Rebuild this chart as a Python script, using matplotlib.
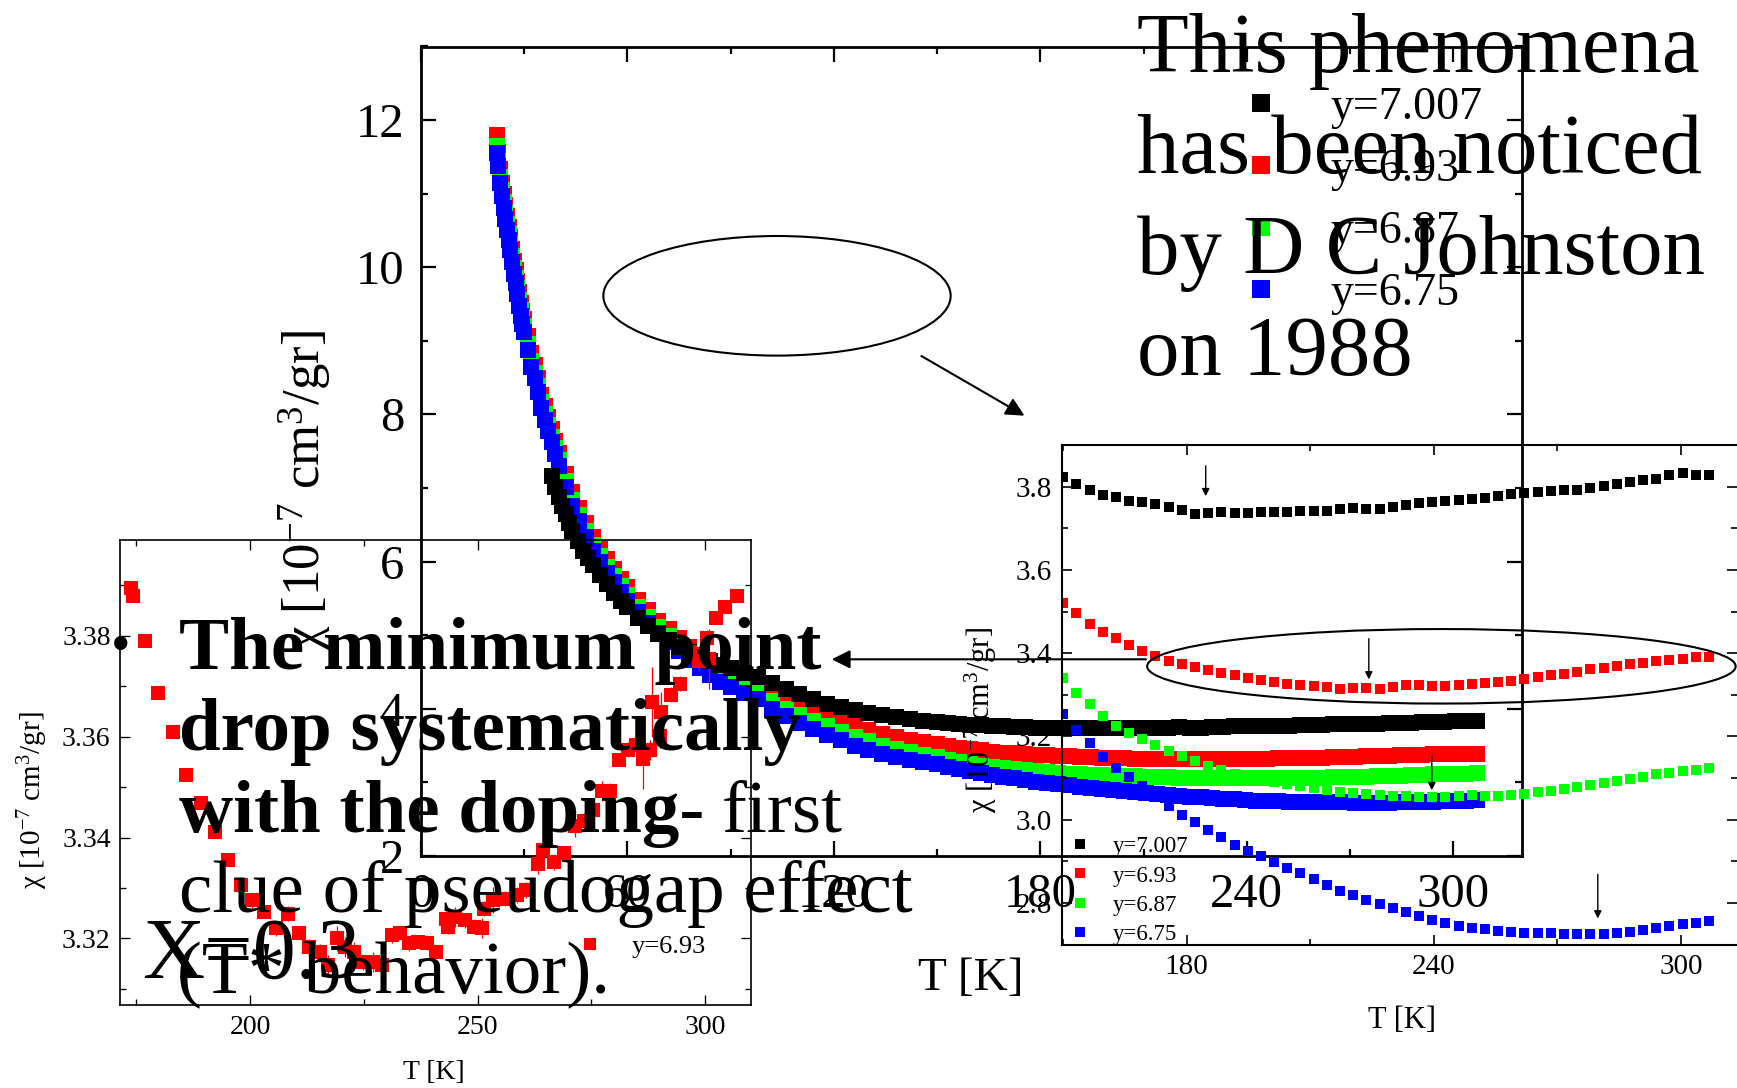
import matplotlib
matplotlib.use("Agg")
import matplotlib.pyplot as plt
from matplotlib.patches import Ellipse
from matplotlib.ticker import MultipleLocator

plt.rcParams["font.family"] = ["Liberation Serif", "DejaVu Serif"]
plt.rcParams["mathtext.fontset"] = "custom"
plt.rcParams["mathtext.rm"] = "Liberation Serif"
plt.rcParams["mathtext.it"] = "Liberation Serif:italic"

W, H = 1737, 1088

# ---- data (T in K, chi in 1e-7 cm^3/gr) ----
labels = ["y=7.007", "y=6.93", "y=6.87", "y=6.75"]
colors = ["black", "red", "#00ff00", "blue"]

# low temperature part, red / green / blue share one T grid
T_low = [22.0, 22.5, 23.0, 23.5, 24.0, 24.5, 25.0, 25.5, 26.0, 26.5, 27.0, 27.5,
         28.0, 28.5, 29.0, 29.5, 30.0, 31.0, 32.0, 33.0, 34.0, 35.0, 36.0, 37.0,
         38.0, 39.0, 40.0, 42.0, 44.0, 46.0, 48.0, 50.0, 52.0, 54.0, 56.0, 58.0,
         60.0, 63.0, 66.0, 69.0, 72.0, 75.0, 78.0, 81.0, 84.0, 87.0, 90.0, 94.0,
         98.0, 102.0, 106.0, 110.0, 114.0, 118.0, 122.0, 126.0, 130.0, 134.0,
         138.0, 142.0, 146.0]
red_low = [11.80, 11.56, 11.33, 11.15, 10.99, 10.84, 10.69, 10.55, 10.41, 10.25,
           10.09, 9.96, 9.82, 9.66, 9.52, 9.41, 9.30, 9.06, 8.83, 8.67, 8.49, 8.27,
           8.11, 7.96, 7.80, 7.64, 7.48, 7.19, 6.94, 6.73, 6.52, 6.33, 6.17, 6.03,
           5.90, 5.77, 5.65, 5.48, 5.34, 5.20, 5.08, 4.96, 4.84, 4.73, 4.63, 4.54,
           4.47, 4.39, 4.31, 4.20, 4.11, 4.03, 3.96, 3.89, 3.82, 3.76, 3.71, 3.66,
           3.62, 3.58, 3.55]
green_low = [11.65, 11.45, 11.22, 11.05, 10.89, 10.74, 10.59, 10.45, 10.31, 10.15,
             9.99, 9.86, 9.72, 9.56, 9.42, 9.31, 9.20, 8.96, 8.73, 8.57, 8.39, 8.17,
             8.01, 7.86, 7.70, 7.54, 7.38, 7.09, 6.84, 6.63, 6.42, 6.23, 6.07, 5.93,
             5.80, 5.67, 5.55, 5.39, 5.25, 5.11, 4.99, 4.87, 4.75, 4.64, 4.54, 4.45,
             4.38, 4.30, 4.22, 4.10, 4.00, 3.92, 3.84, 3.77, 3.69, 3.62, 3.56, 3.50,
             3.45, 3.41, 3.37]
blue_low = [11.55, 11.37, 11.14, 10.97, 10.81, 10.66, 10.51, 10.37, 10.23, 10.07,
            9.91, 9.78, 9.64, 9.48, 9.34, 9.23, 9.12, 8.88, 8.65, 8.49, 8.31, 8.09,
            7.93, 7.78, 7.62, 7.46, 7.30, 7.01, 6.76, 6.55, 6.34, 6.15, 5.99, 5.85,
            5.72, 5.59, 5.47, 5.31, 5.17, 5.03, 4.91, 4.79, 4.67, 4.56, 4.46, 4.37,
            4.30, 4.21, 4.13, 4.00, 3.90, 3.81, 3.73, 3.65, 3.57, 3.50, 3.44, 3.39,
            3.35, 3.31, 3.28]

T_blk_low = [38.0, 39.0, 40.0, 41.0, 42.0, 43.0, 44.0, 45.5, 47.0, 48.5, 50.0, 52.0,
             54.0, 56.0, 58.0, 60.0, 63.0, 66.0, 69.0, 72.0, 75.0, 78.0, 81.0, 84.0,
             87.0, 90.0, 94.0, 98.0, 102.0, 106.0, 110.0, 114.0, 118.0, 122.0,
             126.0, 130.0, 134.0, 138.0, 142.0, 146.0]
black_low = [7.17, 7.02, 6.88, 6.76, 6.65, 6.53, 6.42, 6.28, 6.15, 6.05, 5.95, 5.82,
             5.70, 5.58, 5.47, 5.38, 5.24, 5.12, 5.01, 4.93, 4.84, 4.77, 4.71, 4.65,
             4.60, 4.55, 4.49, 4.43, 4.35, 4.27, 4.20, 4.14, 4.07, 4.02, 3.98, 3.94,
             3.91, 3.89, 3.86, 3.84]

# high temperature part (also shown in the right inset), common T grid
T_hi = [150.0, 153.2, 156.4, 159.6, 162.8, 166.0, 169.2, 172.4, 175.6, 178.8,
        182.0, 185.2, 188.4, 191.6, 194.8, 198.0, 201.2, 204.4, 207.6, 210.8,
        214.0, 217.2, 220.4, 223.6, 226.8, 230.0, 233.2, 236.4, 239.6, 242.8,
        246.0, 249.2, 252.4, 255.6, 258.8, 262.0, 265.2, 268.4, 271.6, 274.8,
        278.0, 281.2, 284.4, 287.6, 290.8, 294.0, 297.2, 300.4, 303.6, 306.8]
black_hi = [3.823, 3.806, 3.792, 3.781, 3.776, 3.766, 3.762, 3.758, 3.752, 3.744,
            3.735, 3.737, 3.738, 3.736, 3.737, 3.738, 3.739, 3.740, 3.741, 3.742,
            3.742, 3.746, 3.749, 3.746, 3.746, 3.750, 3.756, 3.760, 3.762, 3.766,
            3.769, 3.771, 3.773, 3.777, 3.782, 3.784, 3.787, 3.790, 3.791, 3.792,
            3.796, 3.801, 3.806, 3.810, 3.815, 3.819, 3.827, 3.832, 3.829, 3.828]
red_hi = [3.520, 3.497, 3.470, 3.451, 3.436, 3.419, 3.406, 3.393, 3.382, 3.374,
          3.367, 3.360, 3.353, 3.347, 3.340, 3.335, 3.330, 3.325, 3.323, 3.321,
          3.318, 3.315, 3.316, 3.316, 3.315, 3.319, 3.323, 3.323, 3.321, 3.321,
          3.323, 3.325, 3.328, 3.330, 3.333, 3.338, 3.342, 3.347, 3.351, 3.356,
          3.361, 3.365, 3.370, 3.374, 3.377, 3.381, 3.384, 3.387, 3.390, 3.392]
green_hi = [3.341, 3.304, 3.277, 3.250, 3.225, 3.208, 3.194, 3.180, 3.165, 3.152,
            3.142, 3.130, 3.120, 3.110, 3.104, 3.097, 3.091, 3.086, 3.081, 3.076,
            3.072, 3.067, 3.065, 3.062, 3.060, 3.058, 3.056, 3.055, 3.055, 3.055,
            3.058, 3.059, 3.058, 3.058, 3.060, 3.063, 3.067, 3.070, 3.074, 3.079,
            3.083, 3.088, 3.093, 3.097, 3.103, 3.109, 3.113, 3.116, 3.119, 3.124]
blue_hi = [3.254, 3.215, 3.184, 3.150, 3.124, 3.102, 3.080, 3.055, 3.032, 3.012,
           2.994, 2.976, 2.958, 2.940, 2.926, 2.912, 2.898, 2.885, 2.871, 2.857,
           2.843, 2.830, 2.819, 2.808, 2.797, 2.787, 2.778, 2.769, 2.760, 2.752,
           2.746, 2.741, 2.737, 2.734, 2.731, 2.729, 2.727, 2.727, 2.725, 2.725,
           2.725, 2.725, 2.727, 2.730, 2.735, 2.740, 2.744, 2.749, 2.752, 2.756]

# minima marked with arrows in the right inset
arrow_T = [184.6, 224.2, 239.5, 279.8]
arrow_from = [3.850, 3.435, 3.153, 2.869]
arrow_to = [3.777, 3.337, 3.071, 2.763]

# left inset: y=6.93 with error bars
T_L = [173.9, 174.3, 177.0, 179.8, 183.0, 186.0, 189.2, 192.2, 195.1, 198.0, 200.5,
       203.1, 205.8, 208.3, 210.7, 213.0, 215.3, 217.2, 219.2, 220.8, 222.8, 224.9,
       227.0, 229.1, 231.3, 232.9, 235.0, 236.9, 238.8, 240.9, 243.0, 243.4, 245.1,
       247.2, 249.3, 251.0, 251.4, 253.5, 256.0, 258.6, 260.7, 263.2, 264.5, 266.8,
       268.9, 271.4, 273.3, 275.4, 277.3, 279.2, 281.1, 283.0, 284.9, 286.3, 288.0,
       288.4, 290.0, 290.3, 292.5, 294.4, 296.8, 298.7, 300.4, 300.8, 302.5, 304.4,
       307.0]
chi_L = [3.3895, 3.3878, 3.3789, 3.3687, 3.3609, 3.3524, 3.3468, 3.3411, 3.3355,
         3.3305, 3.3276, 3.3253, 3.3220, 3.3249, 3.3210, 3.3183, 3.3173, 3.3147,
         3.3200, 3.3183, 3.3173, 3.3153, 3.3153, 3.3147, 3.3206, 3.3210, 3.3190,
         3.3193, 3.3190, 3.3173, 3.3239, 3.3223, 3.3243, 3.3236, 3.3223, 3.3220,
         3.3259, 3.3276, 3.3279, 3.3286, 3.3296, 3.3348, 3.3376, 3.3351, 3.3369,
         3.3422, 3.3433, 3.3454, 3.3493, 3.3493, 3.3553, 3.3574, 3.3584, 3.3556,
         3.3574, 3.3669, 3.3602, 3.3648, 3.3683, 3.3705, 3.3768, 3.3751, 3.3796,
         3.3754, 3.3835, 3.3857, 3.3878]
err_L = [.0010, .0010, .0012, .0010, .0010, .0010, .0012, .0012, .0010, .0012,
         .0015, .0012, .0015, .0015, .0012, .0015, .0015, .0020, .0025, .0020,
         .0020, .0015, .0020, .0015, .0015, .0012, .0015, .0012, .0012, .0012,
         .0015, .0015, .0020, .0015, .0015, .0020, .0015, .0025, .0015, .0015,
         .0015, .0020, .0015, .0015, .0012, .0020, .0015, .0015, .0020, .0015,
         .0012, .0015, .0020, .0060, .0020, .0070, .0025, .0040, .0015, .0015,
         .0015, .0020, .0015, .0060, .0012, .0012, .0010]

series_T = [T_blk_low + T_hi, T_low + T_hi, T_low + T_hi, T_low + T_hi]
series_chi = [black_low + black_hi, red_low + red_hi, green_low + green_hi,
              blue_low + blue_hi]
draw_order = [1, 2, 3, 0]

ylab = r"χ [10$^{-7}$ cm$^{3}$/gr]"


def px_axes(fig, left, top, right, bottom):
    ax = fig.add_axes([left / W, 1 - bottom / H, (right - left) / W, (bottom - top) / H])
    ax.patch.set_visible(False)
    return ax


def style(ax, lw, size, major, minor, pad):
    for s in ax.spines.values():
        s.set_linewidth(lw)
    ax.tick_params(which="both", direction="in", top=True, right=True,
                   labelsize=size, width=lw * 0.8, pad=pad)
    ax.tick_params(which="major", length=major)
    ax.tick_params(which="minor", length=minor)


fig = plt.figure(figsize=(W / 100, H / 100), dpi=100)

# ---- main panel ----
ax = px_axes(fig, 421, 46.5, 1522, 856)
handles = [None] * 4
for i in draw_order:
    (h,) = ax.plot(series_T[i], series_chi[i], "s", color=colors[i], ms=12,
                   mew=0, label=labels[i])
    handles[i] = h
ax.set_xlim(0, 320)
ax.set_ylim(2, 13)
ax.xaxis.set_major_locator(MultipleLocator(60))
ax.xaxis.set_minor_locator(MultipleLocator(30))
ax.yaxis.set_major_locator(MultipleLocator(2))
ax.yaxis.set_minor_locator(MultipleLocator(1))
style(ax, 2.0, 35, 11, 5, 12)
ax.set_xlabel("T [K]", fontsize=34, va="center")
ax.xaxis.set_label_coords(0.499, -0.152)
ax.set_ylabel(ylab, fontsize=38, va="center")
ax.yaxis.set_label_coords(-0.105, 0.452)
ax.legend(handles=handles, labels=labels, loc="upper left",
          bbox_to_anchor=(0.742, 0.950), frameon=False, fontsize=33,
          markerscale=1.1, handlelength=1.0, handletextpad=1.03,
          labelspacing=0.42, borderpad=0, borderaxespad=0)

# ---- left inset (y=6.93 detail with error bars) ----
axl = px_axes(fig, 120.4, 540, 750.5, 1005)
eb = axl.errorbar(T_L, chi_L, yerr=err_L, fmt="s", color="red", ms=10, mew=0,
                  ecolor="red", elinewidth=0.9, capsize=3.5, capthick=0.9)
axl.set_xlim(171.5, 310)
axl.set_ylim(3.3068, 3.399)
axl.xaxis.set_major_locator(MultipleLocator(50))
axl.xaxis.set_minor_locator(MultipleLocator(25))
axl.yaxis.set_major_locator(MultipleLocator(0.02))
axl.yaxis.set_minor_locator(MultipleLocator(0.01))
style(axl, 1.2, 20, 7, 4, 7)
axl.set_xlabel("T [K]", fontsize=20, va="center")
axl.xaxis.set_label_coords(0.498, -0.145)
axl.set_ylabel(ylab, fontsize=21, va="center")
axl.yaxis.set_label_coords(-0.139, 0.44)
axl.legend(handles=[eb[0]], labels=["y=6.93"], loc="upper left",
           bbox_to_anchor=(0.725, 0.152), frameon=False, fontsize=19,
           markerscale=0.85, handlelength=1.0, handletextpad=1.05,
           borderpad=0, borderaxespad=0)

# ---- right inset (150-310 K zoom) ----
axr = px_axes(fig, 1062, 445, 1737, 944.7)
hr = [None] * 4
for i in draw_order:
    (h,) = axr.plot(series_T[i], series_chi[i], "s", color=colors[i], ms=7.5, mew=0)
    hr[i] = h
for t, y0, y1 in zip(arrow_T, arrow_from, arrow_to):
    axr.annotate("", xy=(t, y1), xytext=(t, y0),
                 arrowprops=dict(arrowstyle="-|>", color="black", lw=1.0,
                                 mutation_scale=11, shrinkA=0, shrinkB=0))
axr.set_xlim(149.7, 313.6)
axr.set_ylim(2.70, 3.90)
axr.xaxis.set_major_locator(MultipleLocator(60))
axr.xaxis.set_minor_locator(MultipleLocator(30))
axr.yaxis.set_major_locator(MultipleLocator(0.2))
axr.yaxis.set_minor_locator(MultipleLocator(0.1))
style(axr, 1.5, 21, 7, 4, 7)
axr.spines["right"].set_visible(False)
axr.set_xlabel("T [K]", fontsize=22, va="center")
axr.xaxis.set_label_coords(0.504, -0.151)
axr.set_ylabel(ylab, fontsize=22, va="center")
axr.yaxis.set_label_coords(-0.12, 0.45)
axr.legend(handles=hr, labels=labels, loc="upper left",
           bbox_to_anchor=(0.0096, 0.2167), frameon=False, fontsize=16.5,
           handlelength=1.0, handletextpad=0.94, labelspacing=0.35,
           borderpad=0, borderaxespad=0)

# ---- overlay in pixel units for ellipses and arrows ----
ov = fig.add_axes([0, 0, 1, 1])
ov.set_xlim(0, W)
ov.set_ylim(H, 0)
ov.axis("off")
ov.add_patch(Ellipse((777, 295.8), 347.3, 119.6, fill=False, lw=1.5, color="black"))
ov.add_patch(Ellipse((1441.4, 666.3), 588.5, 74.5, fill=False, lw=1.5, color="black"))
ov.annotate("", xy=(1024.5, 415.7), xytext=(921.4, 356),
            arrowprops=dict(arrowstyle="-|>", color="black", lw=1.5,
                            mutation_scale=28, shrinkA=0, shrinkB=0))
ov.annotate("", xy=(831.7, 659.3), xytext=(1146, 659.3),
            arrowprops=dict(arrowstyle="-|>", color="black", lw=1.5,
                            mutation_scale=28, shrinkA=0, shrinkB=0))


def ftext(x, y, s, **kw):
    fig.text(x / W, 1 - y / H, s, va="baseline", ha="left", **kw)


# right-hand remark
ftext(1137, 71.7, "This phenomena", fontsize=61)
ftext(1137, 172.5, "has been noticed", fontsize=61)
ftext(1137, 273.5, "by D C Johnston", fontsize=61)
ftext(1137, 375, "on 1988", fontsize=61)

# bullet text at lower left
ftext(111, 662.5, "•", fontsize=40)
ftext(179, 669.3, "The minimum point", fontsize=54, weight="bold")
ftext(179, 749.6, "drop systematically", fontsize=54, weight="bold")
ftext(179, 831.8, "with the doping-", fontsize=54, weight="bold")
ftext(722, 831.8, "first", fontsize=54)
ftext(179, 912, "clue of pseudogap effect", fontsize=54)
ftext(177, 991.7, "(T* behavior).", fontsize=54)
ftext(142, 978, "X=0.3", fontsize=62)

fig.savefig("out.png", dpi=100)
